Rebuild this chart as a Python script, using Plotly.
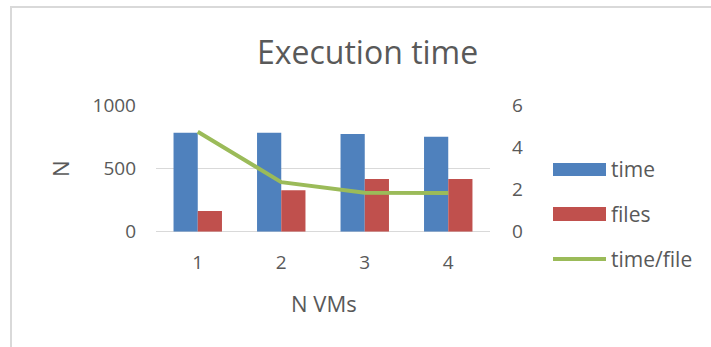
import plotly.graph_objects as go

# Data
vms = ["1", "2", "3", "4"]
time_vals = [786, 786, 776, 754]
files_vals = [164, 329, 418, 418]
time_per_file = [4.76, 2.36, 1.86, 1.84]
series_names = ["time", "files", "time/file"]
left_ticks = [0, 500, 1000]
right_ticks = [0, 2, 4, 6]

W, H = 711, 347
BLUE, RED, GREEN = "#4f81bd", "#c0504d", "#9bbb59"
TXT = "#595959"
GRID = "#d9d9d9"
FONT = "Open Sans"
TICK_SIZE = 19

def px(x):
    return x / W

def py(y):
    return 1 - y / H

fig = go.Figure()
fig.add_trace(go.Bar(x=vms, y=time_vals, name=series_names[0], marker_color=BLUE,
                     marker_line_width=0))
fig.add_trace(go.Bar(x=vms, y=files_vals, name=series_names[1], marker_color=RED,
                     marker_line_width=0))
fig.add_trace(go.Scatter(x=vms, y=time_per_file, name=series_names[2], mode="lines",
                         line=dict(color=GREEN, width=4), yaxis="y2"))

plot_x0, plot_x1 = 156, 490
plot_ytop, plot_ybot = 105.7, 231.7

fig.update_layout(
    width=W, height=H,
    margin=dict(l=0, r=0, t=0, b=0, pad=0, autoexpand=False),
    paper_bgcolor="white", plot_bgcolor="white",
    showlegend=False,
    barmode="group", bargap=0.42, bargroupgap=0,
    font=dict(family=FONT, color=TXT, size=TICK_SIZE),
    xaxis=dict(domain=[px(plot_x0), px(plot_x1)], showgrid=False, showline=False,
               zeroline=False, ticks="", tickfont=dict(size=TICK_SIZE, color=TXT),
               ticklabelstandoff=17, automargin=False),
    yaxis=dict(domain=[py(plot_ybot), py(plot_ytop)], range=[0, 1000],
               tickvals=left_ticks, showgrid=True, gridcolor=GRID, gridwidth=1,
               zeroline=True, zerolinecolor=GRID, zerolinewidth=1, showline=False,
               ticks="", tickfont=dict(size=TICK_SIZE, color=TXT), ticklabelstandoff=19,
               automargin=False),
    yaxis2=dict(overlaying="y", side="right", range=[0, 6], tickvals=right_ticks,
                showgrid=False, zeroline=False, showline=False, ticks="",
                tickfont=dict(size=TICK_SIZE, color=TXT), ticklabelstandoff=21,
                automargin=False),
)

shapes = [
    # chart frame
    dict(type="rect", xref="paper", yref="paper", x0=px(11), x1=px(730),
         y0=py(370), y1=py(7), line=dict(color=GRID, width=2), fillcolor="rgba(0,0,0,0)",
         layer="below"),
    # legend swatches
    dict(type="rect", xref="paper", yref="paper", x0=px(553), x1=px(606),
         y0=py(176), y1=py(163), fillcolor=BLUE, line=dict(width=0)),
    dict(type="rect", xref="paper", yref="paper", x0=px(553), x1=px(606),
         y0=py(221), y1=py(207), fillcolor=RED, line=dict(width=0)),
    dict(type="line", xref="paper", yref="paper", x0=px(553), x1=px(606),
         y0=py(259), y1=py(259), line=dict(color=GREEN, width=4)),
]

annotations = [
    dict(text="Execution time", x=px(367), y=py(52), xref="paper", yref="paper",
         showarrow=False, font=dict(size=32, color=TXT, family=FONT),
         xanchor="center", yanchor="middle"),
    dict(text="N", x=px(60), y=py(169), xref="paper", yref="paper", textangle=-90,
         showarrow=False, font=dict(size=22, color=TXT, family=FONT),
         xanchor="center", yanchor="middle"),
    dict(text="N VMs", x=px(324), y=py(303), xref="paper", yref="paper",
         showarrow=False, font=dict(size=22, color=TXT, family=FONT),
         xanchor="center", yanchor="middle"),
]
for name, yc in zip(series_names, [169, 214, 259]):
    annotations.append(dict(text=name, x=px(609), y=py(yc), xref="paper", yref="paper",
                            showarrow=False, font=dict(size=21, color=TXT, family=FONT),
                            xanchor="left", yanchor="middle"))

fig.update_layout(shapes=shapes, annotations=annotations)
fig.write_html("out.html")
